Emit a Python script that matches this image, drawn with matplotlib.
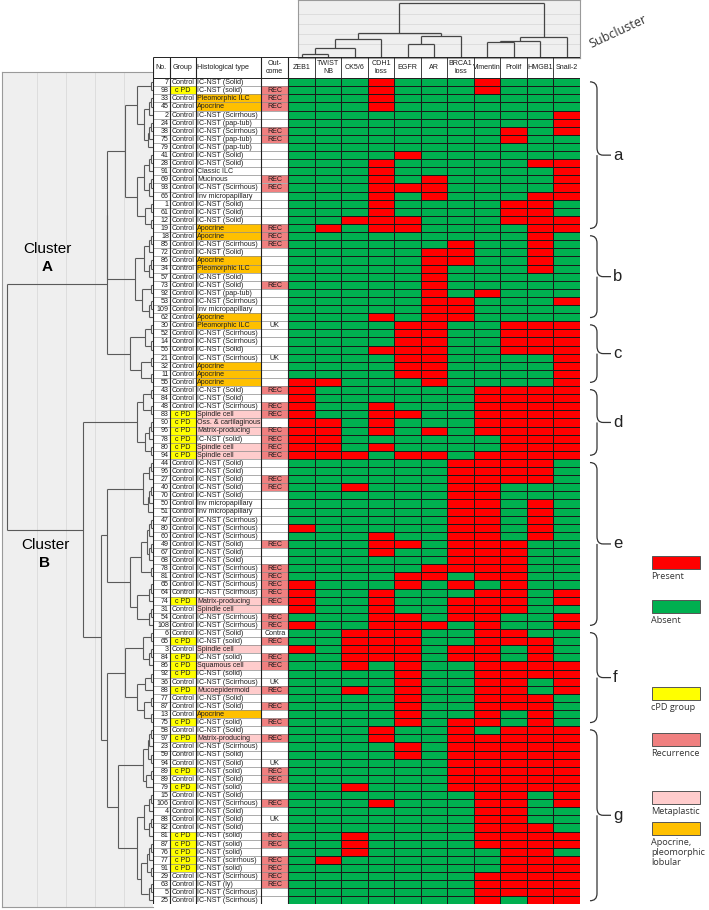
import itertools
import matplotlib
matplotlib.use("Agg")
import matplotlib.pyplot as plt
from matplotlib.patches import Rectangle, PathPatch
from matplotlib.path import Path
from matplotlib.collections import LineCollection
from matplotlib.colors import ListedColormap
import numpy as np

W, H = 709, 910
TABLE_FONT = "Liberation Sans"

# ---------------- data ----------------
C, P = "Control", "c PD"
S, s, Sc, PT = "IC-NST (Solid)", "IC-NST (solid)", "IC-NST (Scirrhous)", "IC-NST (pap-tub)"
AP, PL, IM = "Apocrine", "Pleomorphic ILC", "Inv micropapillary"
SP, MP = "Spindle cell", "Matrix-producing"

case_no = [7, 98, 33, 45, 2, 24, 38, 75, 79, 41, 28, 91, 69, 93, 66, 1, 61, 12, 19, 18,
           85, 72, 86, 34, 57, 73, 92, 53, 109, 62, 30, 52, 14, 56, 21, 32, 11, 55, 43, 84,
           48, 83, 90, 96, 78, 80, 94, 44, 96, 27, 40, 70, 50, 51, 47, 80, 60, 49, 67, 68,
           78, 81, 65, 64, 74, 31, 54, 108, 6, 65, 3, 84, 86, 92, 36, 88, 77, 87, 13, 75,
           58, 97, 23, 59, 94, 89, 89, 79, 15, 106, 4, 88, 82, 81, 87, 76, 77, 91, 29, 63,
           5, 25]

group = [C, P, C, C, C, C, C, C, C, C, C, C, C, C, C, C, C, C, C, C,
         C, C, C, C, C, C, C, C, C, C, C, C, C, C, C, C, C, C, C, C,
         C, P, P, P, P, P, P, C, C, C, C, C, C, C, C, C, C, C, C, C,
         C, C, C, C, P, C, C, C, C, P, C, P, P, P, C, P, C, C, C, P,
         C, P, C, C, C, P, C, P, C, C, C, C, C, P, P, P, P, P, C, C,
         C, C]

histology = [S, s, PL, AP, Sc, PT, Sc, PT, PT, S, S, "Classic ILC", "Mucinous", Sc, IM, S, S, S, AP, AP,
             Sc, S, AP, PL, S, S, PT, Sc, IM, AP, PL, Sc, Sc, S, Sc, AP, AP, AP, S, S,
             Sc, SP, "Oss. & cartilaginous", MP, s, SP, SP, S, S, S, S, S, IM, IM, Sc, Sc, Sc, S, S, S,
             Sc, Sc, Sc, Sc, MP, SP, Sc, Sc, S, s, SP, s, "Squamous cell", s, Sc, "Mucoepidermoid", S, S, AP, s,
             S, MP, Sc, S, S, s, S, s, S, Sc, S, S, S, s, s, s, "IC-NST (scirrhous)", s, Sc, "IC-NST (ly)",
             Sc, Sc]

outcome = ["", "REC", "REC", "REC", "", "", "REC", "REC", "", "", "", "", "REC", "REC", "", "", "", "", "REC", "REC",
           "REC", "", "", "", "", "REC", "", "", "", "", "UK", "", "", "", "UK", "", "", "", "REC", "",
           "REC", "REC", "", "REC", "REC", "REC", "REC", "", "", "REC", "REC", "", "", "", "", "", "", "REC", "", "",
           "REC", "REC", "REC", "REC", "REC", "", "REC", "REC", "Contra", "REC", "", "REC", "REC", "", "UK", "REC", "", "REC", "", "REC",
           "", "REC", "", "", "UK", "REC", "REC", "", "", "REC", "", "UK", "", "REC", "REC", "", "REC", "REC", "REC", "REC",
           "", ""]

markers = ["ZEB1", "TWIST\nNB", "CK5/6", "CDH1\nloss", "EGFR", "AR", "BRCA1\nloss",
           "Vimentin", "Prolif", "HMGB1", "Snail-2"]

# one string per case, 1 = present (red), 0 = absent (green), in marker order
status = ["00010001000", "00010001000", "00010000000", "00010000000", "00000000001",
          "00000000001", "00000000101", "00000000100", "00000000000", "00001000000",
          "00010000011", "00010000001", "00010100001", "00011100001", "00010100011",
          "00010000110", "00010000110", "00111000111", "01011000011", "00000000010",
          "00000010010", "00000110010", "00000110010", "00000100010", "00000100000",
          "00000100000", "00000101000", "00000110001", "00000110000", "00010110000",
          "00001100111", "00001100111", "00001100111", "00011100111", "00001100001",
          "00001100001", "00001100001", "11000100001", "10000001111", "10000001111",
          "10010001111", "10011001111", "11010001111", "11010101111", "11000000111",
          "11010000111", "11101101111", "00000011110", "00000011110", "00000011110",
          "00100011000", "00000011000", "00000011010", "00000011010", "00000011010",
          "10000011010", "00010011010", "00011011100", "00010011100", "00000011100",
          "00000111100", "00001101100", "10001010100", "10010001101", "10010011101",
          "10010011100", "00011011001", "10011101001", "00111001100", "00111001110",
          "10111011010", "00111011010", "00101001111", "00001001111", "00001001101",
          "00101001101", "00001001110", "00001001110", "00001001010", "00001011010",
          "00010010111", "00010011111", "00001011111", "00001011111", "00000011111",
          "00000011111", "00000011111", "00100011111", "00000001101", "00010001101",
          "00000001100", "00000001100", "00000001110", "00100001111", "00100001111",
          "00100000110", "01000000111", "00000000111", "00000001111", "00000001111",
          "00000001111", "00000001011"]

# case dendrogram: (distance, [children]); an int n is a run of n cases joined close to the leaves
sub_a = (28, [(16, [2, (9, [3, 4])]), (16, [(9, [3, 3]), (8, [2, 2])])])
sub_b = (18, [(9, [3, 3]), (11, [2, 3])])
sub_c = (23, [(8, [2, 2]), (12, [2, 2])])
sub_d = (16, [(10, [2, 2]), (8, [3, 2])])
sub_e = (46, [(10, [3, 4]), (23, [(12, [(6, [3, 3]), 2]), (16, [3, 3])])])
sub_f = (28, [(10, [2, 3]), (16, [(8, [2, 1]), (9, [2, 2])])])
sub_g = (35, [(10, [(5, [3, 2]), (7, [2, 1])]), (16, [(9, [3, 3]), (12, [(6, [3, 2]), (5, [3])])])])
cluster_A = (46, [(46, [sub_a, sub_b]), sub_c])
cluster_B = (70, [sub_d, (52, [sub_e, (46, [sub_f, sub_g])])])
case_tree = (146, [cluster_A, cluster_B])

sub_labels = ["a", "b", "c", "d", "e", "f", "g"]
sub_first = [0, 19, 30, 38, 47, 68, 80]
sub_last = [18, 29, 37, 46, 67, 79, 101]

# marker dendrogram
marker_tree = (55, [(25, [(19, [(10, [(4, ["ZEB1", "TWIST"]), "CK5/6"]), "CDH1"]),
                          (22, [(14, ["EGFR", "AR"]), "BRCA1"])]),
                    (21, [(17, [(16, ["Vimentin", "Prolif"]), "HMGB1"]), "Snail-2"])])

legend_labels = ["Present", "Absent", "cPD group", "Recurrence", "Metaplastic",
                 "Apocrine,\npleomorphic\nlobular"]

RED, GREEN = "#ff0000", "#00b050"
YELLOW, SALMON, PINK, ORANGE = "#ffff00", "#f08080", "#ffcccc", "#ffc000"
legend_colors = [RED, GREEN, YELLOW, SALMON, PINK, ORANGE]
metaplastic = {SP, MP, "Oss. & cartilaginous", "Squamous cell", "Mucoepidermoid"}
apocrine_like = {AP, PL}

# ---------------- layout helpers ----------------
ROW_TOP, ROW_H = 78.2, 8.1
N = len(case_no)


def rect(x0, y0, x1, y1):
    return [x0 / W, 1 - y1 / H, (x1 - x0) / W, (y1 - y0) / H]


def px_to_row(y):
    return (y - ROW_TOP) / ROW_H


def build(node, leaves, segs, pos):
    if isinstance(node, str):
        return next(leaves) + 0.5, 0.0
    if isinstance(node, int):
        ys = [next(leaves) + 0.5 for _ in range(node)]
        cur, curh = ys[0], 0.0
        for k, y in enumerate(ys[1:]):
            h = 2 + 1.6 * k
            segs += [((cur, curh), (cur, h)), ((y, 0), (y, h)), ((cur, h), (y, h))]
            cur, curh = (cur + y) / 2, h
        return cur, curh
    h, kids = node
    pts = [build(k, leaves, segs, pos) for k in kids]
    for p, hk in pts:
        segs.append(((p, hk), (p, h)))
    segs.append(((pts[0][0], h), (pts[-1][0], h)))
    pos[id(node)] = ((pts[0][0] + pts[-1][0]) / 2, h)
    return pos[id(node)]


fig = plt.figure(figsize=(W / 100, H / 100), dpi=100)
fig.patch.set_facecolor("white")

# ---------------- case dendrogram ----------------
axd = fig.add_axes(rect(2, 72, 153, 907))
axd.set_facecolor("#efefef")
segs, pos = [], {}
build(case_tree, itertools.count(), segs, pos)
axd.add_collection(LineCollection([[(h0, p0), (h1, p1)] for (p0, h0), (p1, h1) in segs],
                                  colors="#5a5a5a", linewidths=0.8))
axd.set_xlim(151, 0)
axd.set_ylim(px_to_row(907), px_to_row(72))
axd.set_xticks([29, 58, 87, 116])
axd.set_yticks([])
axd.tick_params(length=0, labelbottom=False)
axd.grid(axis="x", color="#dadada", lw=0.6)
axd.set_axisbelow(True)
for sp in axd.spines.values():
    sp.set_color("#9a9a9a")
    sp.set_linewidth(0.8)
axd.spines["right"].set_visible(False)

root_d = case_tree[0]
for node, name, dy in [(cluster_A, "A", -1), (cluster_B, "B", 1)]:
    y, d = pos[id(node)]
    xc = (root_d + node[0]) / 2 + (10 if name == "A" else 0)
    if dy < 0:
        axd.text(xc, y - 4.4, "Cluster", ha="center", va="center", fontsize=11, family=TABLE_FONT)
        axd.text(xc, y - 2.2, name, ha="center", va="center", fontsize=11, weight="bold", family=TABLE_FONT)
    else:
        axd.text(xc, y + 1.9, "Cluster", ha="center", va="center", fontsize=11, family=TABLE_FONT)
        axd.text(xc, y + 4.1, name, ha="center", va="center", fontsize=11, weight="bold", family=TABLE_FONT)

# ---------------- marker dendrogram ----------------
HM_LEFT, COL_W = 288.3, (580 - 288.3) / 11
axt = fig.add_axes(rect(298, 0, 580, 57.5))
axt.set_facecolor("#efefef")
segs_t = []
build(marker_tree, itertools.count(), segs_t, {})
axt.add_collection(LineCollection(segs_t, colors="#454545", linewidths=0.9))
axt.set_xlim((298 - HM_LEFT) / COL_W, 11)
axt.set_ylim(0, 57.5)
axt.set_yticks([14, 24, 34, 44])
axt.set_xticks([])
axt.tick_params(length=0, labelleft=False)
axt.grid(axis="y", color="#dadada", lw=0.6)
axt.set_axisbelow(True)
for sp in axt.spines.values():
    sp.set_color("#9a9a9a")
    sp.set_linewidth(0.8)

# ---------------- table + heatmap ----------------
hdr = px_to_row(ROW_TOP) - px_to_row(57)
edges = [0, 16.7, 43.4, 108.4, HM_LEFT - 153]
axm = fig.add_axes(rect(153, 57, 580, ROW_TOP + N * ROW_H))
axm.set_xlim(0, 580 - 153)
axm.set_ylim(N, -hdr)
axm.axis("off")

hm_edges = edges[-1] + COL_W * np.arange(12)
mat = np.array([[int(c) for c in row] for row in status])
axm.pcolormesh(hm_edges, np.arange(N + 1), mat, cmap=ListedColormap([GREEN, RED]),
               edgecolors="#1a1a1a", linewidth=0.45, vmin=0, vmax=1)

txt = dict(fontsize=5.1, family=TABLE_FONT, color="#1e1e1e", va="center")
for r in range(N):
    if group[r] == P:
        axm.add_patch(Rectangle((edges[1], r), edges[2] - edges[1], 1, fc=YELLOW, lw=0))
    if histology[r] in apocrine_like:
        axm.add_patch(Rectangle((edges[2], r), edges[3] - edges[2], 1, fc=ORANGE, lw=0))
    elif histology[r] in metaplastic:
        axm.add_patch(Rectangle((edges[2], r), edges[3] - edges[2], 1, fc=PINK, lw=0))
    if outcome[r] == "REC":
        axm.add_patch(Rectangle((edges[3], r), edges[4] - edges[3], 1, fc=SALMON, lw=0))
    yc = r + 0.55
    axm.text(edges[1] - 0.8, yc, str(case_no[r]), ha="right", **txt)
    axm.text((edges[1] + edges[2]) / 2, yc, group[r], ha="center", **txt)
    axm.text(edges[2] + 1.0, yc, histology[r], ha="left", **txt)
    axm.text((edges[3] + edges[4]) / 2, yc, outcome[r], ha="center", **txt)

axm.hlines(np.arange(N + 1), 0, edges[-1], color="#8a8a8a", lw=0.5)
axm.vlines(edges, -hdr, N, color="#222222", lw=0.8)
axm.vlines(hm_edges, -hdr, 0, color="#222222", lw=0.6)
axm.hlines([-hdr, 0], 0, hm_edges[-1], color="#222222", lw=0.7)

headers = ["No.", "Group", "Histological type", "Out-\ncome"] + markers
centers = [(a + b) / 2 for a, b in zip(edges[:-1], edges[1:])] + list((hm_edges[:-1] + hm_edges[1:]) / 2)
for i, (label, xc) in enumerate(zip(headers, centers)):
    if i == 2:
        axm.text(edges[2] + 1.0, -hdr / 2, label, ha="left", va="center", fontsize=5.1,
                 family=TABLE_FONT, color="#1e1e1e")
    else:
        axm.text(xc, -hdr / 2, label, ha="center", va="center", fontsize=5.1,
                 family=TABLE_FONT, color="#1e1e1e", linespacing=1.2)

# ---------------- subcluster braces ----------------
axb = fig.add_axes(rect(580, ROW_TOP, 709, ROW_TOP + N * ROW_H))
axb.set_xlim(0, 129)
axb.set_ylim(N, 0)
axb.axis("off")
x0, x1, x2, x3 = 10, 17, 23, 31
rr = 0.9
for lab, a, b in zip(sub_labels, sub_first, sub_last):
    y0, y1 = a + 0.45, b + 0.55
    ym = (y0 + y1) / 2
    verts = [(x0, y0), (x1, y0), (x1, y0 + rr), (x1, ym - rr), (x1, ym), (x2, ym),
             (x1, ym), (x1, ym + rr), (x1, y1 - rr), (x1, y1), (x0, y1),
             (x2, ym), (x3, ym)]
    codes = [Path.MOVETO, Path.CURVE3, Path.CURVE3, Path.LINETO, Path.CURVE3, Path.CURVE3,
             Path.MOVETO, Path.CURVE3, Path.LINETO, Path.CURVE3, Path.CURVE3,
             Path.MOVETO, Path.LINETO]
    axb.add_patch(PathPatch(Path(verts, codes), fc="none", ec="#333333", lw=0.9))
    axb.text(x3 + 2, ym, lab, ha="left", va="center", fontsize=12, family=TABLE_FONT, color="#222222")

fig.text(618 / W, 1 - 32 / H, "Subcluster", rotation=25, ha="center", va="center",
         fontsize=9, family="Open Sans", color="#333333")

# ---------------- legend ----------------
axl = fig.add_axes(rect(640, 540, 709, 900))
axl.set_xlim(640, 709)
axl.set_ylim(900, 540)
axl.axis("off")
box_tops = [556, 600, 687, 733, 791, 822]
for lab, col, top in zip(legend_labels, legend_colors, box_tops):
    axl.add_patch(Rectangle((652, top), 48, 13, fc=col, ec="#555555", lw=0.7))
    axl.text(651, top + 16, lab, ha="left", va="top", fontsize=6.6, family="Open Sans",
             color="#333333", linespacing=1.15)

fig.savefig("out.png", dpi=100)
